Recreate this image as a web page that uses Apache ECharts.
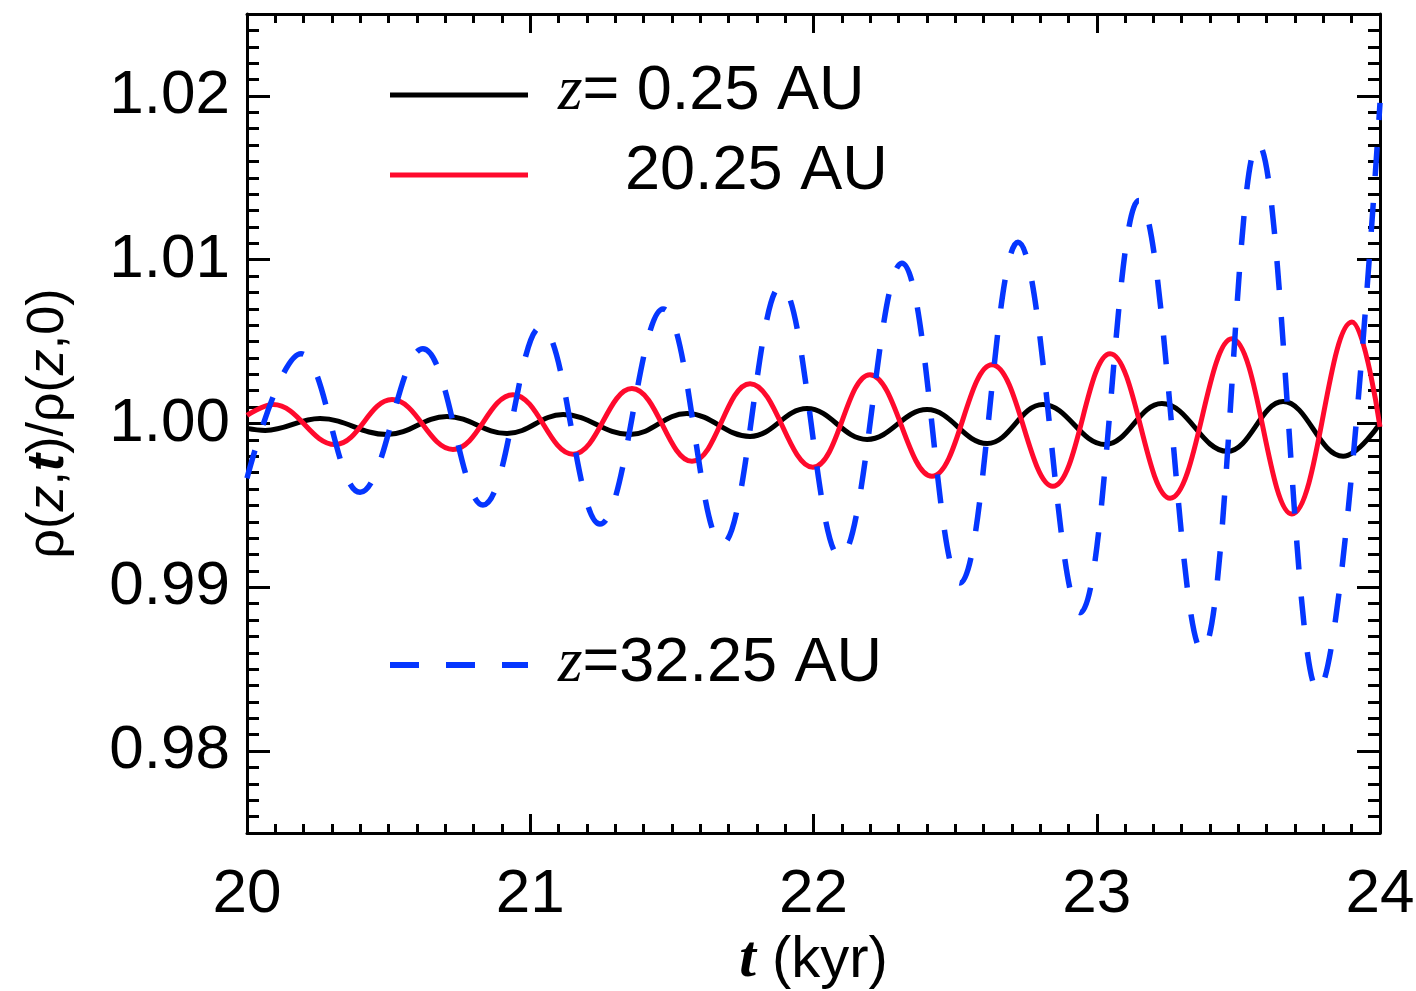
<!DOCTYPE html>
<html>
<head>
<meta charset="utf-8">
<script src="https://cdn.jsdelivr.net/npm/echarts@6/dist/echarts.min.js"></script>
<style>
  html, body { margin: 0; padding: 0; background: #ffffff; }
  #chart { width: 1416px; height: 991px; }
</style>
</head>
<body>
<div id="chart"></div>
<script>
// Density ratio rho(z,t)/rho(z,0) versus time t (kyr), sampled at the turning points of each curve.
const tZ025 = [20.000, 20.064, 20.258, 20.494, 20.706, 20.918, 21.116, 21.352, 21.553, 21.776, 21.977,
               22.189, 22.401, 22.613, 22.810, 23.029, 23.230, 23.460, 23.658, 23.870, 24.000];
const rhoZ025 = [0.99970, 0.99958, 1.00030, 0.99933, 1.00043, 0.99939, 1.00055, 0.99933, 1.00061, 0.99921, 1.00091,
                 0.99903, 1.00085, 0.99878, 1.00116, 0.99872, 1.00122, 0.99830, 1.00134, 0.99800, 1.00000];

const tZ2025 = [20.000, 20.092, 20.311, 20.512, 20.727, 20.939, 21.151, 21.359, 21.571, 21.776, 21.998,
                22.199, 22.418, 22.630, 22.845, 23.047, 23.259, 23.477, 23.689, 23.901, 24.000];
const rhoZ2025 = [1.00050, 1.00116, 0.99872, 1.00146, 0.99842, 1.00176, 0.99812, 1.00213, 0.99769, 1.00243, 0.99733,
                  1.00298, 0.99678, 1.00359, 0.99617, 1.00426, 0.99544, 1.00517, 0.99447, 1.00620, 0.99980];

const tZ3225 = [20.000, 20.191, 20.399, 20.621, 20.833, 21.038, 21.246, 21.469, 21.677, 21.885,
                22.094, 22.312, 22.517, 22.722, 22.941, 23.149, 23.372, 23.569, 23.781, 24.000];
const rhoZ3225 = [0.99666, 1.00426, 0.99580, 1.00456, 0.99502, 1.00590, 0.99386, 1.00699, 0.99264, 1.00839,
                  0.99185, 1.00979, 0.99027, 1.01106, 0.98845, 1.01362, 0.98614, 1.01708, 0.98371, 1.01957];

const xTicks = [20, 21, 22, 23, 24];
const yTicks = [0.98, 0.99, 1.00, 1.01, 1.02];
const legendLabels = ['{i|z}= 0.25 AU', '20.25 AU', '{i|z}=32.25 AU'];

const SANS = "'Liberation Sans', Arial, Helvetica, sans-serif";
const SERIF = "'Liberation Serif', 'Times New Roman', serif";
const BLACK = '#000000';
const RED = '#ff0a2d';
const BLUE = '#0536ff';
const DASH = [29, 27];
const TICK_FONT = 62;
const LEGEND_FONT = 63;

const pairs = (ts, vs) => ts.map((t, i) => [t, vs[i]]);

// minor ticks on the ratio axis every 0.001
const yMinor = [];
for (let k = 976; k <= 1024; k++) yMinor.push(k / 1000);

const yMin = 0.975, yMax = 1.025;
const xMin = xTicks[0], xMax = xTicks[xTicks.length - 1];
const edge = { show: true, onZero: false, lineStyle: { color: BLACK, width: 3 } };

function xAxisDef(position, withLabels) {
  return {
    type: 'value', position, min: xMin, max: xMax, interval: 1,
    axisLine: edge,
    axisTick: { show: true, inside: true, length: 19, lineStyle: { color: BLACK, width: 3 } },
    minorTick: { show: true, splitNumber: 10, length: 9, lineStyle: { color: BLACK, width: 3 } },
    splitLine: { show: false }, minorSplitLine: { show: false },
    axisLabel: withLabels ? {
      show: true, margin: 31, color: BLACK, fontSize: TICK_FONT, fontFamily: SANS,
      formatter: v => String(v)
    } : { show: false },
    ...(withLabels ? {
      name: '{t|t} (kyr)', nameLocation: 'middle', nameGap: 89,
      nameTextStyle: {
        color: BLACK, fontSize: 58, fontFamily: SANS,
        rich: { t: { fontSize: 60, fontFamily: SERIF, fontStyle: 'italic', fontWeight: 'bold', color: BLACK } }
      }
    } : {})
  };
}

function yMajorDef(position, withLabels) {
  return {
    type: 'value', position, min: yMin, max: yMax,
    axisLine: edge,
    axisTick: { show: true, inside: true, length: 23, customValues: yTicks, lineStyle: { color: BLACK, width: 3 } },
    splitLine: { show: false },
    axisLabel: withLabels ? {
      show: true, margin: 17, color: BLACK, fontSize: TICK_FONT, fontFamily: SANS,
      customValues: yTicks, formatter: v => v.toFixed(2)
    } : { show: false },
    ...(withLabels ? {
      name: 'ρ({i|z},{b|t})/ρ({i|z},0)', nameLocation: 'middle', nameRotate: 90, nameGap: 172,
      nameTextStyle: {
        color: BLACK, fontSize: 52, fontFamily: SANS,
        rich: {
          i: { fontSize: 52, fontFamily: SANS, fontStyle: 'italic', color: BLACK },
          b: { fontSize: 52, fontFamily: SANS, fontStyle: 'italic', fontWeight: 'bold', color: BLACK }
        }
      }
    } : {})
  };
}

function yMinorDef(position) {
  return {
    type: 'value', position, min: yMin, max: yMax,
    axisLine: { show: false },
    axisTick: { show: true, inside: true, length: 12, customValues: yMinor, lineStyle: { color: BLACK, width: 3 } },
    splitLine: { show: false },
    axisLabel: { show: false }
  };
}

const legendRows = [
  { y: 95, color: BLACK, dash: null, width: 5, textX: 558, textY: 92 },
  { y: 175, color: RED, dash: null, width: 5, textX: 625, textY: 172 },
  { y: 665, color: BLUE, dash: DASH, width: 6, textX: 558, textY: 664 }
];

const graphic = [];
legendRows.forEach((row, i) => {
  graphic.push({
    type: 'line', silent: true,
    shape: { x1: 390, y1: row.y, x2: 528, y2: row.y },
    style: { stroke: row.color, lineWidth: row.width, lineDash: row.dash || null, lineCap: 'butt' }
  });
  graphic.push({
    type: 'text', silent: true, x: row.textX, y: row.textY,
    style: {
      text: legendLabels[i], fill: BLACK, fontSize: LEGEND_FONT, fontFamily: SANS,
      verticalAlign: 'middle', align: 'left',
      rich: { i: { fontSize: LEGEND_FONT, fontFamily: SERIF, fontStyle: 'italic', fill: BLACK } }
    }
  });
});

const chart = echarts.init(document.getElementById('chart'), null, { renderer: 'canvas' });
chart.setOption({
  animation: false,
  backgroundColor: '#ffffff',
  grid: { left: 247, right: 36, top: 14, bottom: 158, containLabel: false, outerBoundsMode: 'none' },
  xAxis: [xAxisDef('bottom', true), xAxisDef('top', false)],
  yAxis: [yMajorDef('left', true), yMinorDef('left'), yMajorDef('right', false), yMinorDef('right')],
  series: [
    {
      name: 'z= 0.25 AU', type: 'line', xAxisIndex: 0, yAxisIndex: 0,
      data: pairs(tZ025, rhoZ025), showSymbol: false, smooth: 0.4,
      lineStyle: { color: BLACK, width: 5 }, z: 2
    },
    {
      name: '20.25 AU', type: 'line', xAxisIndex: 0, yAxisIndex: 0,
      data: pairs(tZ2025, rhoZ2025), showSymbol: false, smooth: 0.4,
      lineStyle: { color: RED, width: 5 }, z: 3
    },
    {
      name: 'z=32.25 AU', type: 'line', xAxisIndex: 0, yAxisIndex: 0,
      data: pairs(tZ3225, rhoZ3225), showSymbol: false, smooth: 0.4,
      lineStyle: { color: BLUE, width: 5.5, type: DASH, cap: 'butt' }, z: 4
    }
  ],
  graphic
});
</script>
</body>
</html>
